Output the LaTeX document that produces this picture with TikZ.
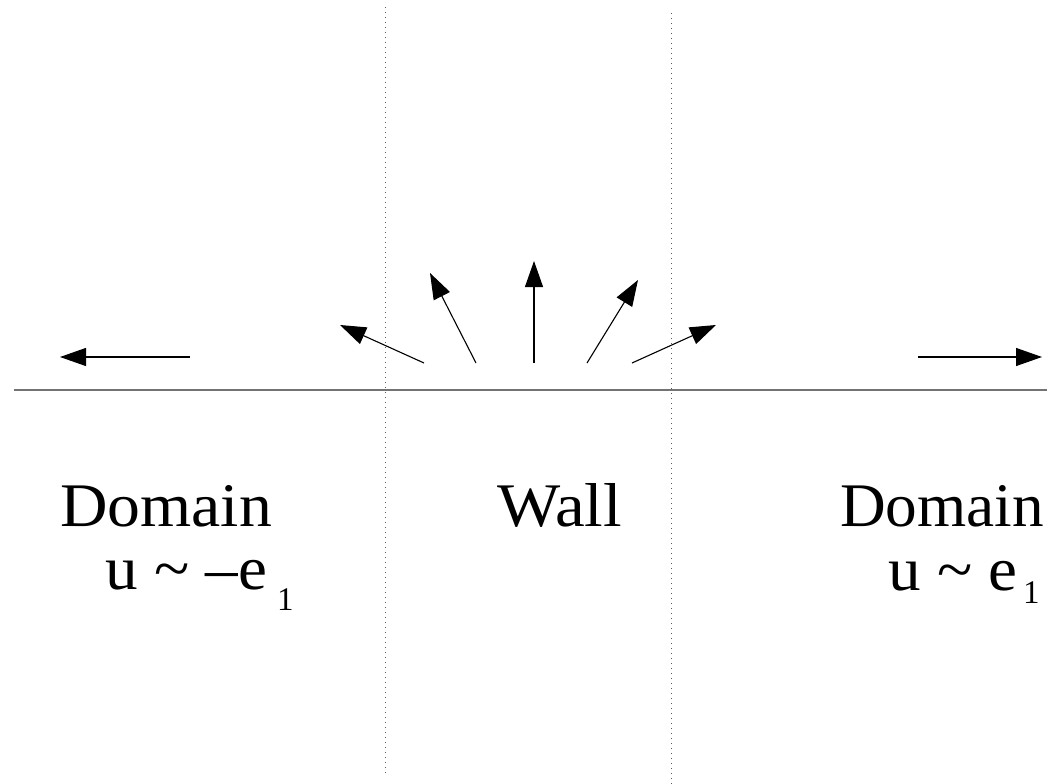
\documentclass[tikz,border=0pt]{standalone}
\usepackage{fontspec}
\setmainfont{Liberation Serif}
\usetikzlibrary{arrows.meta}
\begin{document}
\begin{tikzpicture}[x=1pt,y=1pt,
  vec/.style={line width=1.1pt,-{Triangle[length=26pt,width=18pt]}},
  wallline/.style={gray!70!black,line width=1pt,dash pattern=on 1.2pt off 3.8pt},
  ground/.style={gray!90!black,line width=2pt},
  big/.style={inner sep=0pt,anchor=base west,font=\fontsize{62}{70}\selectfont},
  sub/.style={inner sep=0pt,anchor=base west,font=\fontsize{33}{38}\selectfont}]
\useasboundingbox (0,0) rectangle (1047,-784);
% boundaries
\coordinate (wl1) at (385,-7);   \coordinate (wl2) at (385,-775);
\coordinate (wr1) at (671,-13);  \coordinate (wr2) at (671,-784);
\draw[wallline] (wl1) -- (wl2);
\draw[wallline] (wr1) -- (wr2);
\coordinate (g1) at (14,-390); \coordinate (g2) at (1047,-390);
\draw[ground] (g1) -- (g2);
% arrows
\coordinate (a0) at (190,-357); \coordinate (b0) at (60,-357);
\coordinate (a1) at (424,-363); \coordinate (b1) at (340,-325);
\coordinate (a2) at (476,-363); \coordinate (b2) at (430,-273);
\coordinate (a3) at (534,-363); \coordinate (b3) at (534,-261);
\coordinate (a4) at (587,-363); \coordinate (b4) at (638,-280);
\coordinate (a5) at (632,-363); \coordinate (b5) at (716,-325);
\coordinate (a6) at (918,-357); \coordinate (b6) at (1042,-357);
\foreach \i in {0,...,6} \draw[vec] (a\i) -- (b\i);
% labels
\node[big,xscale=1.06,transform shape] (dl) at (60,-526) {Domain};
\node[big,xscale=1.08,transform shape] (wall) at (497,-526) {Wall};
\node[big,xscale=1.02,transform shape] (dr) at (840,-526) {Domain};
\node[big,xscale=1.05,transform shape] (ul) at (105,-589) {u \textasciitilde{} –e};
\node[sub] (sl) at (277,-610) {1};
\node[big,xscale=1.05,transform shape] (ur) at (888,-590) {u \textasciitilde{} e};
\node[sub] (sr) at (1023,-603) {1};
\end{tikzpicture}
\end{document}
